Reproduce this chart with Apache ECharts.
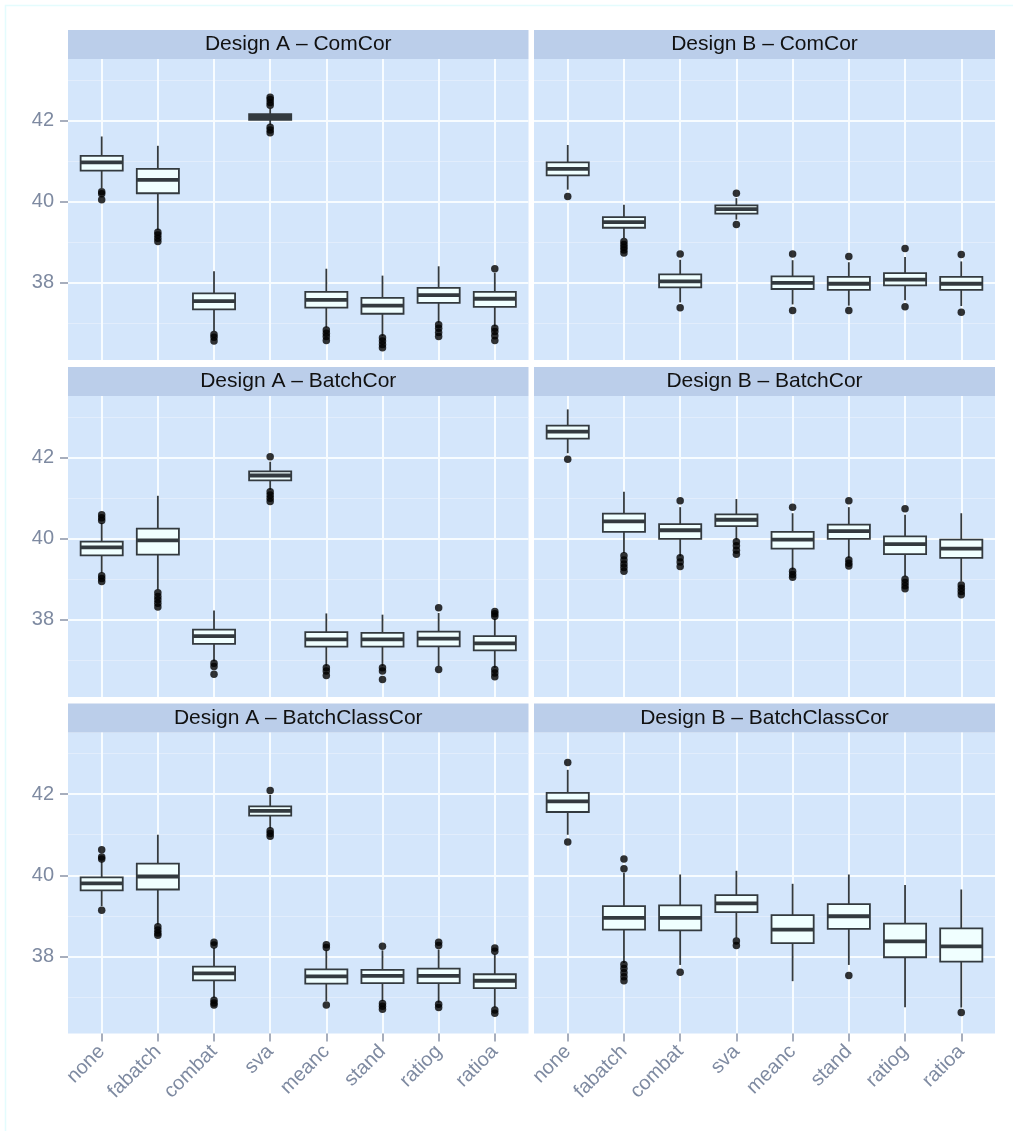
<!DOCTYPE html>
<html><head><meta charset="utf-8">
<script src="https://cdn.jsdelivr.net/npm/echarts@6/dist/echarts.min.js"></script>
<style>html,body{margin:0;padding:0;background:#fff}#c{width:1013px;height:1131px}</style>
</head><body><div id="c"></div>
<script>
// ---------- data ----------
const categories = ['none', 'fabatch', 'combat', 'sva', 'meanc', 'stand', 'ratiog', 'ratioa'];
const yTicks = [38, 40, 42];
const yMinorTicks = [37, 39, 41, 43];
const panelTitles = [
  'Design A \u2013 ComCor', 'Design B \u2013 ComCor',
  'Design A \u2013 BatchCor', 'Design B \u2013 BatchCor',
  'Design A \u2013 BatchClassCor', 'Design B \u2013 BatchClassCor'
];
// each box: [lower whisker, Q1, median, Q3, upper whisker]
const boxesAComCor = [
  [40.34, 40.77, 40.97, 41.13, 41.61], [39.31, 40.21, 40.54, 40.81, 41.38],
  [36.81, 37.35, 37.55, 37.74, 38.29], [41.90, 42.02, 42.09, 42.16, 42.30],
  [36.90, 37.39, 37.58, 37.78, 38.35], [36.69, 37.24, 37.44, 37.63, 38.18],
  [37.02, 37.51, 37.70, 37.88, 38.41], [36.93, 37.41, 37.61, 37.78, 38.25]
];
const outliersAComCor = [
  [1, 40.25], [1, 40.20], [1, 40.05],
  [2, 39.25], [2, 39.18], [2, 39.10], [2, 39.02],
  [3, 36.73], [3, 36.66], [3, 36.57],
  [4, 42.58], [4, 42.52], [4, 42.45], [4, 42.38], [4, 41.84], [4, 41.77], [4, 41.70],
  [5, 36.84], [5, 36.76], [5, 36.68], [5, 36.58],
  [6, 36.65], [6, 36.57], [6, 36.48], [6, 36.40],
  [7, 36.97], [7, 36.88], [7, 36.78], [7, 36.68],
  [8, 38.35], [8, 36.88], [8, 36.80], [8, 36.70], [8, 36.58]
];
const boxesBComCor = [
  [40.30, 40.65, 40.81, 40.97, 41.40], [39.11, 39.36, 39.50, 39.62, 39.93],
  [37.52, 37.89, 38.04, 38.21, 38.57], [39.56, 39.71, 39.82, 39.91, 40.09],
  [37.47, 37.85, 38.00, 38.16, 38.56], [37.44, 37.83, 37.98, 38.15, 38.51],
  [37.57, 37.94, 38.08, 38.24, 38.64], [37.43, 37.83, 37.98, 38.15, 38.53]
];
const outliersBComCor = [
  [1, 40.13],
  [2, 39.02], [2, 38.95], [2, 38.88], [2, 38.81], [2, 38.74],
  [3, 38.71], [3, 37.39],
  [4, 40.21], [4, 39.44],
  [5, 38.71], [5, 37.32],
  [6, 38.65], [6, 37.32],
  [7, 38.85], [7, 37.41],
  [8, 38.70], [8, 37.28]
];
const boxesABatchCor = [
  [39.16, 39.59, 39.79, 39.93, 40.39], [38.75, 39.61, 39.96, 40.25, 41.06],
  [36.98, 37.41, 37.60, 37.76, 38.23], [41.21, 41.44, 41.56, 41.66, 41.90],
  [36.86, 37.34, 37.52, 37.70, 38.16], [36.86, 37.34, 37.52, 37.68, 38.13],
  [36.86, 37.35, 37.54, 37.71, 38.17], [36.82, 37.25, 37.42, 37.60, 38.03]
];
const outliersABatchCor = [
  [1, 40.59], [1, 40.52], [1, 40.45], [1, 39.09], [1, 39.02], [1, 38.95],
  [2, 38.67], [2, 38.58], [2, 38.50], [2, 38.41], [2, 38.32],
  [3, 36.93], [3, 36.85], [3, 36.66],
  [4, 42.02], [4, 41.16], [4, 41.08], [4, 41.00], [4, 40.92],
  [5, 36.82], [5, 36.74], [5, 36.63],
  [6, 36.82], [6, 36.74], [6, 36.53],
  [7, 38.30], [7, 36.78],
  [8, 38.21], [8, 38.15], [8, 38.09], [8, 36.78], [8, 36.69], [8, 36.60]
];
const boxesBBatchCor = [
  [42.11, 42.47, 42.64, 42.79, 43.19], [39.65, 40.17, 40.43, 40.62, 41.16],
  [39.57, 40.00, 40.21, 40.36, 40.78], [39.98, 40.31, 40.47, 40.60, 40.98],
  [39.24, 39.76, 39.98, 40.17, 40.63], [39.53, 40.00, 40.19, 40.35, 40.78],
  [39.07, 39.62, 39.87, 40.06, 40.59], [38.95, 39.53, 39.76, 39.98, 40.63]
];
const outliersBBatchCor = [
  [1, 41.96],
  [2, 39.58], [2, 39.48], [2, 39.38], [2, 39.29], [2, 39.20],
  [3, 40.94], [3, 39.53], [3, 39.43], [3, 39.32],
  [4, 39.93], [4, 39.83], [4, 39.72], [4, 39.62],
  [5, 40.78], [5, 39.20], [5, 39.12], [5, 39.05],
  [6, 40.94], [6, 39.48], [6, 39.40], [6, 39.33],
  [7, 40.74], [7, 39.00], [7, 38.92], [7, 38.84], [7, 38.77],
  [8, 38.86], [8, 38.78], [8, 38.70], [8, 38.62]
];
const boxesABatchClassCor = [
  [39.24, 39.63, 39.80, 39.95, 40.34], [38.79, 39.65, 39.97, 40.29, 41.00],
  [36.98, 37.41, 37.58, 37.75, 38.21], [41.16, 41.47, 41.59, 41.70, 41.98],
  [36.90, 37.33, 37.51, 37.68, 38.15], [36.90, 37.34, 37.52, 37.67, 38.15],
  [36.86, 37.34, 37.52, 37.70, 38.17], [36.74, 37.22, 37.40, 37.56, 38.05]
];
const outliersABatchClassCor = [
  [1, 40.63], [1, 40.45], [1, 40.40], [1, 39.14],
  [2, 38.73], [2, 38.65], [2, 38.58], [2, 38.52],
  [3, 38.35], [3, 38.28], [3, 36.92], [3, 36.85], [3, 36.80],
  [4, 42.09], [4, 41.10], [4, 41.03], [4, 40.96],
  [5, 38.29], [5, 38.22], [5, 36.80],
  [6, 38.25], [6, 36.84], [6, 36.77], [6, 36.70],
  [7, 38.35], [7, 38.27], [7, 36.82], [7, 36.74],
  [8, 38.21], [8, 38.13], [8, 36.68], [8, 36.60]
];
const boxesBBatchClassCor = [
  [41.00, 41.56, 41.82, 42.03, 42.60], [37.84, 38.66, 38.95, 39.24, 40.06],
  [37.79, 38.64, 38.95, 39.26, 40.02], [38.46, 39.09, 39.31, 39.51, 40.11],
  [37.39, 38.33, 38.66, 39.02, 39.79], [37.79, 38.68, 38.99, 39.29, 40.02],
  [36.75, 37.98, 38.37, 38.81, 39.76], [36.74, 37.87, 38.25, 38.69, 39.65]
];
const outliersBBatchClassCor = [
  [1, 42.78], [1, 40.82],
  [2, 40.40], [2, 40.16], [2, 37.80], [2, 37.70], [2, 37.60], [2, 37.50], [2, 37.40],
  [3, 37.61],
  [4, 38.38], [4, 38.27],
  [6, 37.53],
  [8, 36.62]
];

const panelBoxes = [boxesAComCor, boxesBComCor, boxesABatchCor, boxesBBatchCor, boxesABatchClassCor, boxesBBatchClassCor];
const panelOutliers = [outliersAComCor, outliersBComCor, outliersABatchCor, outliersBBatchCor, outliersABatchClassCor, outliersBBatchClassCor];

// ---------- layout / style ----------
const FONT = 'Liberation Sans, Arial, sans-serif';
const colLeft = [68, 534], colWidth = [460.5, 461];
const rowTop = [59, 396, 732.5], plotH = 301;
const stripH = 29;
const Y_MIN = 36.10, Y_MAX = 43.52;
const panelBg = '#D4E6FB', stripBg = '#BBCEEA';
const majorGrid = '#F7FCFF', minorGrid = '#E2EDFC';
const labelColor = '#7E8AA1', tickColor = '#8A94A8';
const boxFill = '#F0FFFF', boxStroke = '#333A3F';

const grids = [], xAxes = [], yAxes = [], series = [], graphics = [];
graphics.push({type: 'rect', shape: {x: 5.5, y: 5.5, width: 1040, height: 1160},
  style: {fill: 'none', stroke: '#E4FCFD', lineWidth: 1.5}, silent: true});

panelTitles.forEach((title, p) => {
  const row = Math.floor(p / 2), col = p % 2;
  const left = colLeft[col], width = colWidth[col], top = rowTop[row];
  grids.push({left, top, width, height: plotH, show: true, backgroundColor: panelBg, borderWidth: 0, containLabel: false});
  graphics.push({type: 'group', children: [
    {type: 'rect', shape: {x: left, y: top - stripH, width, height: stripH}, style: {fill: stripBg}},
    {type: 'text', x: left + width / 2, y: top - stripH / 2,
      style: {text: title, font: '21px ' + FONT, fill: '#111', align: 'center', verticalAlign: 'middle'}}
  ]});
  const bottomRow = row === 2, leftCol = col === 0;
  xAxes.push({
    type: 'value', gridIndex: p, min: 0.4, max: 8.6,
    axisLine: {show: false},
    axisTick: {show: bottomRow, length: 8, customValues: categories.map((c, i) => i + 1), lineStyle: {color: tickColor, width: 1.5}},
    axisLabel: {show: bottomRow, customValues: categories.map((c, i) => i + 1), formatter: v => categories[Math.round(v) - 1] || '',
      rotate: 45, fontSize: 20, fontFamily: FONT, color: labelColor, margin: 15},
    splitLine: {show: true, lineStyle: {color: majorGrid, width: 2}}
  });
  yAxes.push({
    type: 'value', gridIndex: p, min: Y_MIN, max: Y_MAX,
    axisLine: {show: false},
    axisTick: {show: leftCol, length: 8, customValues: yTicks, lineStyle: {color: tickColor, width: 1.5}},
    axisLabel: {show: leftCol, customValues: yTicks, fontSize: 20, fontFamily: FONT, color: labelColor, margin: 14},
    splitLine: {show: true, lineStyle: {color: majorGrid, width: 2}}
  });
  yAxes.push({
    type: 'value', gridIndex: p, min: Y_MIN, max: Y_MAX, position: 'left',
    axisLine: {show: false},
    axisTick: {show: false, customValues: yMinorTicks},
    axisLabel: {show: false, customValues: yMinorTicks},
    splitLine: {show: true, lineStyle: {color: minorGrid, width: 1}}
  });
  series.push({
    type: 'custom', xAxisIndex: p, yAxisIndex: 2 * p, silent: true,
    data: panelBoxes[p].map((b, i) => [i + 1].concat(b)),
    encode: {x: 0, y: [1, 2, 3, 4, 5]},
    renderItem: function (params, api) {
      const x = api.value(0);
      const pMin = api.coord([x, api.value(1)]);
      const pQ1 = api.coord([x, api.value(2)]);
      const pMed = api.coord([x, api.value(3)]);
      const pQ3 = api.coord([x, api.value(4)]);
      const pMax = api.coord([x, api.value(5)]);
      const w = api.size([0.75, 0])[0];
      const lw = 1.8;
      return {type: 'group', children: [
        {type: 'line', shape: {x1: pMax[0], y1: pMax[1], x2: pQ3[0], y2: pQ3[1]}, style: {stroke: boxStroke, lineWidth: lw}},
        {type: 'line', shape: {x1: pQ1[0], y1: pQ1[1], x2: pMin[0], y2: pMin[1]}, style: {stroke: boxStroke, lineWidth: lw}},
        {type: 'rect', shape: {x: pQ3[0] - w / 2, y: pQ3[1], width: w, height: pQ1[1] - pQ3[1]},
          style: {fill: boxFill, stroke: boxStroke, lineWidth: lw}},
        {type: 'line', shape: {x1: pMed[0] - w / 2, y1: pMed[1], x2: pMed[0] + w / 2, y2: pMed[1]},
          style: {stroke: boxStroke, lineWidth: 3.8}}
      ]};
    }
  });
  series.push({
    type: 'scatter', xAxisIndex: p, yAxisIndex: 2 * p, silent: true,
    data: panelOutliers[p], symbol: 'circle', symbolSize: 7.5,
    itemStyle: {color: '#000000'}
  });
});

const chart = echarts.init(document.getElementById('c'), null, {renderer: 'canvas'});
chart.setOption({
  animation: false,
  backgroundColor: '#ffffff',
  grid: grids, xAxis: xAxes, yAxis: yAxes, series, graphic: graphics
});
</script></body></html>
